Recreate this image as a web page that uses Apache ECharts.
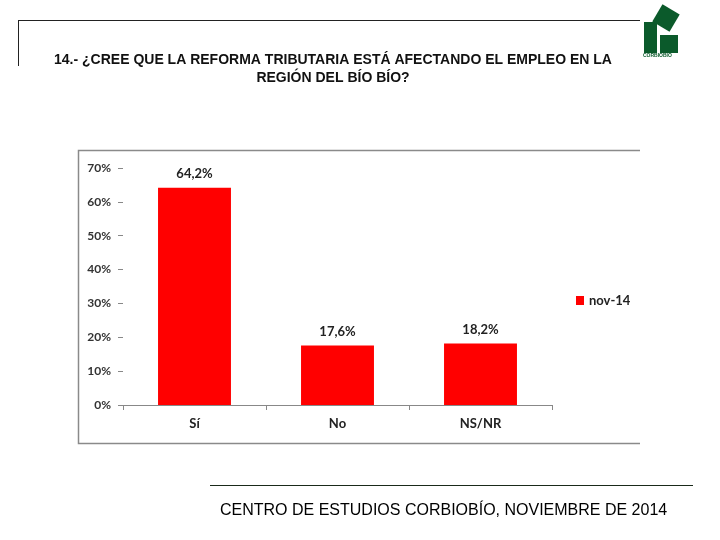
<!DOCTYPE html>
<html><head><meta charset="utf-8">
<script src="https://cdn.jsdelivr.net/npm/echarts@6/dist/echarts.min.js"></script>
<style>html,body{margin:0;padding:0;background:#fff}#c{width:720px;height:540px}</style>
</head><body><div id="c"></div>
<script>
const categories = ['Sí', 'No', 'NS/NR'];
const values = [64.2, 17.6, 18.2];
const seriesName = 'nov-14';
const yTicks = [0, 10, 20, 30, 40, 50, 60, 70];

const chart = echarts.init(document.getElementById('c'));
const green = '#0b5a2b';
const option = {
  backgroundColor: '#fff',
  animation: false,
  title: {
    text: '14.- ¿CREE QUE LA REFORMA TRIBUTARIA ESTÁ AFECTANDO EL EMPLEO EN LA\nREGIÓN DEL BÍO BÍO?',
    left: 328, top: 46, textAlign: 'center',
    textStyle: {fontFamily: 'Liberation Sans', fontWeight: 'bold', fontSize: 14, lineHeight: 18, color: '#111'}
  },
  legend: {
    data: [seriesName], left: 571, top: 289, itemWidth: 8, itemHeight: 9, itemGap: 5, icon: 'rect',
    textStyle: {fontFamily: 'Lato', fontWeight: 'bold', fontSize: 13, color: '#222'}
  },
  grid: {left: 123, top: 168, width: 429, height: 237},
  xAxis: {
    type: 'category', data: categories,
    axisLine: {lineStyle: {color: '#888'}},
    axisTick: {show: true, length: 5, lineStyle: {color: '#888'}},
    axisLabel: {margin: 12, fontFamily: 'Lato', fontWeight: 'bold', fontSize: 13, color: '#222'}
  },
  yAxis: {
    type: 'value', min: 0, max: 70, interval: 10,
    splitLine: {show: false},
    axisLine: {show: false},
    axisTick: {show: true, length: 5, lineStyle: {color: '#888'}},
    axisLabel: {margin: 12, fontFamily: 'Lato', fontWeight: 'bold', fontSize: 12, color: '#333',
      formatter: v => yTicks.includes(v) ? v + '%' : ''}
  },
  series: [{
    name: seriesName, type: 'bar', data: values, barWidth: '51%',
    itemStyle: {color: '#ff0000'},
    label: {show: true, position: 'top', distance: 7, fontFamily: 'Lato', fontWeight: 'bold', fontSize: 13, color: '#222',
      formatter: p => String(p.value).replace('.', ',') + '%'}
  }],
  graphic: [
    {type: 'line', shape: {x1: 18, y1: 20.5, x2: 640, y2: 20.5}, style: {stroke: '#222', lineWidth: 1}},
    {type: 'line', shape: {x1: 18.5, y1: 20, x2: 18.5, y2: 66}, style: {stroke: '#222', lineWidth: 1}},
    {type: 'polyline', shape: {points: [[640, 150.5], [78.5, 150.5], [78.5, 443.5], [640, 443.5]]}, style: {fill: 'none', stroke: '#8a8a8a', lineWidth: 1.5}, z: -1},
    {type: 'line', shape: {x1: 210, y1: 485.5, x2: 693, y2: 485.5}, style: {stroke: '#1a2a1a', lineWidth: 1}},
    {type: 'text', left: 220, top: 503, style: {text: 'CENTRO DE ESTUDIOS CORBIOBÍO, NOVIEMBRE DE 2014', fontFamily: 'Liberation Sans', fontSize: 16, fill: '#000'}},
    // logo
    {type: 'rect', x: 666, y: 18, rotation: -Math.PI * 0.17, shape: {x: -10, y: -10, width: 20, height: 20}, style: {fill: green}},
    {type: 'rect', shape: {x: 644, y: 22, width: 13, height: 31}, style: {fill: green}},
    {type: 'rect', shape: {x: 660, y: 35, width: 18, height: 18}, style: {fill: green}},
    {type: 'text', left: 643, top: 53, style: {text: 'CORBIOBIO', fontFamily: 'Liberation Sans', fontSize: 5, fontWeight: 'bold', fill: green}}
  ]
};
chart.setOption(option);
</script></body></html>
